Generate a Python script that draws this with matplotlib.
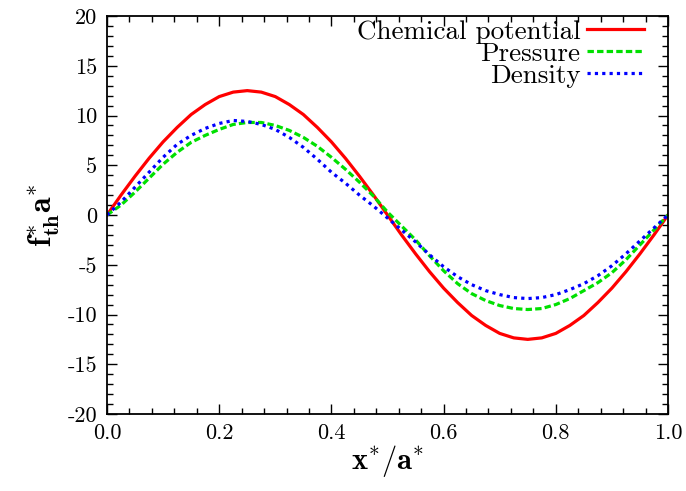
import numpy as np
import matplotlib
matplotlib.use("Agg")
import matplotlib.pyplot as plt
from matplotlib.ticker import MultipleLocator, FormatStrFormatter

# values, x step 0.025
x = np.arange(41) * 0.025
chem = [0.0, 2.0, 3.9, 5.7, 7.35, 8.8, 10.1, 11.1, 11.9, 12.35, 12.5,
        12.35, 11.9, 11.1, 10.1, 8.8, 7.35, 5.7, 3.9, 2.0, 0.0,
        -2.0, -3.9, -5.7, -7.35, -8.8, -10.1, -11.1, -11.9, -12.35, -12.5,
        -12.35, -11.9, -11.1, -10.1, -8.8, -7.35, -5.7, -3.9, -2.0, 0.0]
pressure = [0.0, 1.0, 2.3, 3.7, 5.1, 6.3, 7.3, 8.0, 8.6, 9.1, 9.3,
            9.3, 9.0, 8.5, 7.8, 6.9, 5.8, 4.6, 3.3, 1.9, 0.3,
            -1.1, -2.5, -4.1, -5.6, -6.9, -7.9, -8.6, -9.1, -9.4, -9.5,
            -9.4, -9.0, -8.4, -7.6, -6.8, -5.8, -4.5, -3.0, -1.5, 0.0]
density = [0.0, 1.3, 2.8, 4.3, 5.8, 7.1, 8.0, 8.7, 9.2, 9.5, 9.4,
           9.1, 8.6, 7.8, 6.8, 5.6, 4.3, 3.2, 2.0, 0.9, -0.3,
           -1.5, -2.7, -4.0, -5.2, -6.2, -7.0, -7.6, -8.0, -8.3, -8.4,
           -8.3, -8.0, -7.5, -6.9, -6.1, -5.1, -3.9, -2.6, -1.3, 0.0]

plt.rcParams["font.family"] = "serif"
plt.rcParams["font.serif"] = ["cmr10"]
plt.rcParams["mathtext.fontset"] = "cm"
plt.rcParams["axes.unicode_minus"] = False

fig = plt.figure(figsize=(6.86, 4.91), dpi=100)
ax = fig.add_axes([107/686, 77/491, 561/686, 398/491])

ax.plot(x, chem, color="#ff0000", lw=2.3, ls="-", label="Chemical potential")
ax.plot(x, pressure, color="#00e000", lw=2.3, ls=(0, (2, 1)), label="Pressure")
ax.plot(x, density, color="#0000ff", lw=2.3, ls=(0, (1, 1.3)), label="Density")

ax.set_xlim(0, 1)
ax.set_ylim(-20, 20)
ax.xaxis.set_major_locator(MultipleLocator(0.2))
ax.xaxis.set_minor_locator(MultipleLocator(0.04))
ax.yaxis.set_major_locator(MultipleLocator(5))
ax.yaxis.set_minor_locator(MultipleLocator(1))
ax.xaxis.set_major_formatter(FormatStrFormatter("%.1f"))
ax.yaxis.set_major_formatter(FormatStrFormatter("%d"))
ax.tick_params(which="both", direction="in", top=True, right=True, labelsize=16)
ax.tick_params(which="major", length=7, width=1, pad=7)
ax.tick_params(which="minor", length=4, width=1)
for s in ax.spines.values():
    s.set_linewidth(1.3)

ax.set_xlabel(r"$\mathbf{x^{*}/a^{*}}$", fontsize=22, labelpad=0)
ax.set_ylabel(r"$\mathbf{f^{*}_{th}a^{*}}$", fontsize=23, labelpad=4)

ax.legend(loc="upper right", bbox_to_anchor=(0.957, 0.99), frameon=False,
          markerfirst=False, fontsize=19.5, handlelength=2.1,
          handletextpad=0.25, labelspacing=-0.08,
          borderaxespad=0, borderpad=0)

fig.savefig("out.png", dpi=100)
